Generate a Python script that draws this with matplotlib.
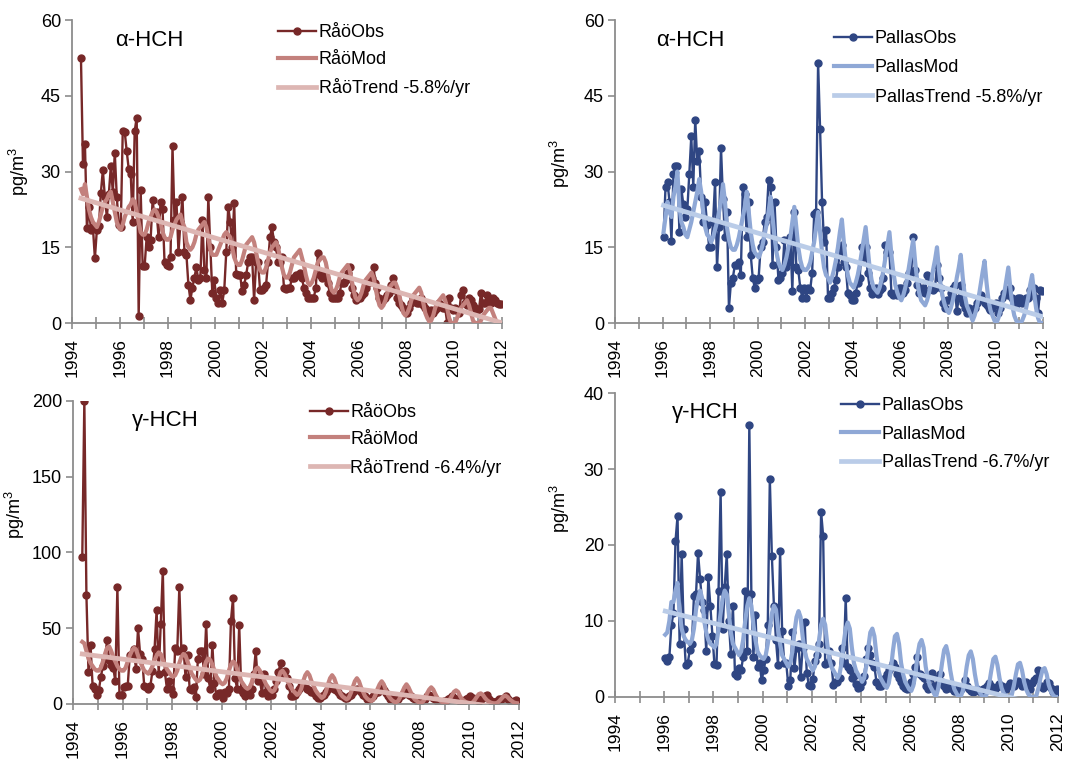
import numpy as np
import pandas as pd
import matplotlib
matplotlib.use("Agg")
import matplotlib.pyplot as plt
from matplotlib.ticker import MultipleLocator

plt.rcParams['font.family'] = ['Liberation Sans', 'DejaVu Sans']
plt.rcParams['mathtext.default'] = 'regular'

# ---------------- data (monthly values, pg/m3) ----------------
# Råö alpha-HCH, May 1994 - Dec 2011
raa_alpha_obs = [
    [52.5, 31.5, 35.5, 18.8, 23, 18.5, 19, 12.8],
    [18.5, 19.2, 25.8, 30.3, 25, 21, 25.5, 31, 26, 33.7, 25, 19.5],
    [19, 38, 37.8, 34, 30.5, 29.5, 20, 38, 40.7, 1.3, 26.3, 11.3],
    [11.3, 17, 15, 16.5, 24.3, 21, 22, 17, 24, 22.5, 12, 11.5],
    [11.3, 13, 35, 20.5, 24, 14, 20, 25, 14, 13.5, 7.5, 4.6],
    [7, 9, 11, 8.5, 9, 20.5, 10.5, 9, 25, 15, 6, 8.5],
    [5, 4, 6.5, 4, 6.5, 14, 23, 20, 15, 23.7, 9.7, 9.5],
    [9.5, 6.3, 7.5, 9.5, 12, 13, 13, 4.5, 12, 12, 6.5, 6.5],
    [7, 7.5, 12, 17, 19, 16, 15, 12, 12, 13, 7, 6.8],
    [7, 7, 9, 9, 9.5, 9.5, 10, 9, 7, 6, 5, 5],
    [5, 5, 7, 13.8, 9.5, 9, 10, 9, 8, 6, 5, 5],
    [5, 5, 6, 8, 8, 8.5, 10, 11, 7, 5.5, 4.5, 5],
    [5, 5.5, 6, 7, 8, 8.5, 9, 11, 8, 7, 5, 4.5],
    [4.5, 5, 5.5, 6, 7.5, 9, 6.5, 5, 4, 3.5, 3, 2.5],
    [2, 3, 4, 5, 4.5, 4, 4, 5, 3.5, 3, 2.5, 2],
    [2.5, 2, 2.5, 3, 4, 3.5, 3, 3, 0.1, 5, 3, 2.5],
    [3, 2.5, 2, 5.5, 6.5, 4, 3.5, 5, 4.5, 3.5, 3, 2.5],
    [2.7, 6, 4, 4, 5.5, 5, 4, 5, 4.5, 4, 3.8, 3.8],
]
raa_alpha_mod = [
    [26.5, 25.5, 27.5, 25, 22.5, 21, 20, 19.5],
    [19, 20, 21.5, 23, 24, 24.5, 25.5, 26, 24, 22, 20, 19],
    [18.5, 19.5, 21, 22, 23, 23.5, 24.5, 24, 22, 20, 18, 17.5],
    [17.5, 18.5, 20, 21, 22, 22.5, 22, 21, 20, 18, 17, 16.5],
    [16.5, 17, 18.5, 19.5, 20.5, 21, 21.5, 20, 19, 16, 15, 14.5],
    [15, 16, 17.5, 18.5, 19, 19.5, 20, 19, 17, 14.5, 13.5, 13.5],
    [13.5, 14.5, 15.5, 16.5, 17.5, 18, 17.5, 17, 15, 13, 12, 11.5],
    [11.5, 12.5, 14, 15.5, 16, 16.5, 17, 16, 14, 12, 10.5, 10],
    [10, 11, 12.5, 14, 15, 15.5, 16, 15, 13, 11, 9.5, 9],
    [9, 10, 11.5, 13, 13.5, 14, 14.5, 13, 11.5, 9.5, 8, 7.5],
    [8, 9, 10.5, 12, 12.5, 13, 13, 12, 10, 8, 6.5, 6],
    [6.5, 7.5, 9, 10, 10.5, 11, 11.5, 10.5, 8.5, 6.5, 5, 4.5],
    [5, 6, 7.5, 8.5, 9, 9.5, 10, 9, 7, 5, 3.5, 3],
    [3.5, 4.5, 6, 7, 7.5, 8, 8, 7, 5.5, 3.5, 2, 1.5],
    [2, 3, 4.5, 5.5, 6, 6.5, 7, 6, 4, 2, 1, 0.3],
    [0.5, 1.5, 3, 4, 4.5, 5, 5.5, 4.5, 3, 1, 0, 0],
    [0, 1, 2, 3, 3.5, 4, 4.5, 3.5, 2, 0.5, 0, 0],
    [0, 0.5, 1.5, 2, 2.5, 3, 3, 2, 1, 0, 0, 0],
]
raa_alpha_trend = [24.7, 0.1]          # first and last month

# Pallas alpha-HCH, Jan 1996 - Dec 2011
pal_alpha_obs = [
    [17, 27, 28, 24, 16.3, 29.5, 31, 31, 18, 26.5, 23.5, 21],
    [22.5, 29.5, 37, 27, 40.3, 32, 34, 25, 20, 24, 19.5, 15],
    [15, 20, 28, 11, 19, 34.7, 24.5, 17, 22, 3, 8, 9],
    [11.5, 11.5, 12, 9.5, 27, 25.5, 17, 24, 13.5, 9, 7, 8.5],
    [9, 15, 16, 20, 21, 28.3, 27, 11.5, 24, 15, 8.5, 9],
    [10, 16.5, 11, 12, 17, 6.3, 22, 11, 10.5, 7, 5, 7],
    [5, 7, 6.5, 10, 21.5, 22, 51.5, 38.5, 24, 16, 18.5, 5],
    [5, 6, 7, 8.5, 11, 14, 15.5, 12, 11, 6, 5.5, 4.5],
    [4.5, 6, 8, 9, 15, 13, 15, 10, 7, 5.8, 6.5, 7],
    [5.8, 6.5, 7, 9, 15.5, 14, 14, 6, 5.5, 6, 5.5, 7],
    [7, 6, 6.5, 8, 10, 10, 17, 10.5, 7.5, 6, 6.5, 7],
    [6, 9.5, 9, 7, 6.5, 7, 11.5, 9, 7, 4, 3, 4.5],
    [4.5, 6, 7, 7.5, 2.3, 5, 7.5, 4, 3, 2, 3, 2.5],
    [2.5, 3, 4, 5, 5.5, 4.5, 4, 3.5, 3, 2.5, 3, 3.5],
    [4, 2, 3, 5, 6, 6, 5.5, 7, 5, 4, 3.5, 5],
    [5, 4, 4.5, 5, 5, 6.5, 6, 7, 5, 2, 6.5, 6.3],
]
pal_alpha_mod = [
    [18, 21, 24, 22, 21, 25, 27, 30, 23, 20, 19, 17.5],
    [17, 18.5, 20, 22, 24, 26, 28.5, 26, 22, 19, 17.5, 17],
    [16, 17, 18.5, 20, 22, 24, 27.5, 24, 19, 16.5, 15, 14.5],
    [14.5, 15.5, 17, 19, 21, 23, 26, 22, 18, 15.5, 14, 13.5],
    [13, 14, 15.5, 17.5, 19.5, 22, 25, 21, 17, 14, 12, 11],
    [10.5, 11.5, 13, 15, 17, 20, 23, 19, 15, 12.5, 11, 10.5],
    [10.5, 11, 12, 14, 16, 19, 22, 18, 14, 11, 9.5, 9],
    [8, 9, 10.5, 12.5, 15, 18, 20.5, 16, 12, 9.5, 8, 7.5],
    [7, 8, 9.5, 11.5, 14, 16.5, 19, 15, 11, 8.5, 7, 6.5],
    [6, 7, 8.5, 10.5, 13, 15.5, 18, 13.5, 10, 7.5, 6, 5],
    [4.5, 5.5, 7, 9, 11.5, 14, 16.5, 12, 8.5, 6, 4.5, 4],
    [3.5, 4.5, 6, 8, 10.5, 12.5, 15, 10.5, 7, 5, 3.5, 2.5],
    [2, 3, 4.5, 6.5, 9, 11, 13.5, 9, 5.5, 3.5, 2.5, 1.5],
    [0.5, 1.5, 3, 5, 7.5, 10, 12.3, 8, 4.5, 2.5, 1.5, 0.5],
    [0, 1, 2.5, 4, 6, 8.5, 11, 7, 3.5, 1.5, 0.5, 0],
    [0, 0.5, 1.5, 3, 5, 7.5, 9.5, 6, 3, 1, 0, 0],
]
pal_alpha_trend = [23.3, 1.3]

# Råö gamma-HCH, May 1994 - Dec 2011
raa_gamma_obs = [
    [97, 200, 72, 21, 39, 12, 10, 6],
    [9, 18, 25, 30, 42, 29, 26, 24, 15, 77, 6, 6],
    [11, 12, 12, 32, 33, 36, 23, 50, 33, 30, 12, 11.5],
    [10, 12, 22, 36, 62, 20, 53, 88, 21, 10, 15, 10],
    [6.5, 37, 35, 77, 35, 37, 18, 32, 10, 9, 11, 4.5],
    [30, 35, 35, 20, 53, 17, 10, 39, 14, 5, 7, 7],
    [4, 8, 7, 10, 55, 70, 17, 10, 52, 9, 7, 5],
    [8, 6, 10, 20, 35, 15, 16, 7, 20, 8, 5, 8],
    [6, 10, 15, 21, 27, 20, 22, 17, 12, 5, 5, 6],
    [8, 10, 12, 14, 12, 10, 9, 8, 7, 5, 4, 4],
    [5, 6, 8, 10, 12, 11, 10, 9, 8, 6, 5, 4],
    [4, 5, 6, 8, 9, 10, 9, 8, 6, 5, 3, 3],
    [4, 5, 7, 8, 10, 11, 9, 7, 5, 3, 3, 2.5],
    [3, 3.5, 5, 6, 7, 8, 6, 5, 4, 3, 2, 2],
    [2, 3, 3.5, 5, 6, 5, 4, 3, 2, 1.5, 1.5, 2],
    [2, 3, 4, 5, 4, 3, 2.5, 2, 1.5, 2, 3, 4],
    [5, 4, 3, 2.5, 2, 3, 4, 5, 6, 3, 2, 1.5],
    [1, 2, 3, 3, 4, 5, 3, 2, 1.5, 2, 2.5, 1],
]
raa_gamma_mod = [
    [41, 40, 35, 30, 27, 25, 23, 22],
    [22, 24, 28, 33, 37, 38, 35, 31, 28, 25, 23, 22],
    [22, 24, 28, 32, 35, 37, 36, 32, 28, 25, 22, 21],
    [20, 22, 25, 29, 32, 34, 33, 29, 26, 23, 21, 19],
    [18, 19, 22, 27, 31, 33, 32, 28, 24, 20, 18, 16],
    [15, 16, 19, 24, 28, 30, 29, 26, 22, 18, 16, 14],
    [13, 14, 17, 22, 26, 28, 27, 23, 19, 15, 13, 11],
    [10, 11, 14, 19, 23, 24, 22, 19, 16, 13, 11, 9],
    [8, 9, 12, 17, 21, 22, 20, 17, 14, 11, 9, 7.5],
    [6, 7, 10, 15, 19, 21, 19, 15, 12, 9, 7, 5.5],
    [4, 5, 8, 13, 17, 19, 17, 13, 10, 7, 5, 4],
    [3, 4, 7, 11, 15, 17, 15, 11, 8, 5, 3.5, 2.5],
    [2, 3, 6, 10, 13, 15, 13, 9, 6, 4, 2.5, 1.5],
    [1.2, 2, 4.5, 8, 11, 13, 11, 8, 5, 3, 2, 1],
    [0.8, 1.5, 3.5, 7, 9.5, 11, 9.5, 6.5, 4, 2.5, 1.5, 0.8],
    [0.6, 1.2, 3, 5.5, 8, 9, 8, 5, 3, 2, 1, 0.6],
    [0.5, 1, 2.5, 4.5, 6.5, 7, 6, 4, 2.5, 1.5, 0.8, 0.5],
    [0.4, 0.8, 2, 3.5, 5, 5.5, 4.5, 3, 2, 1, 0.6, 0.4],
]
raa_gamma_trend = [33.0, -3.6]

# Pallas gamma-HCH, Jan 1996 - Dec 2011
pal_gamma_obs = [
    [5.1, 4.8, 5.2, 9.5, 11, 20.5, 23.8, 7, 18.8, 9, 4.2, 4.5],
    [6.2, 7, 13.3, 13.5, 19, 15.5, 12.5, 11.5, 6, 15.8, 12, 8],
    [4.3, 4.2, 14, 27, 9, 14.5, 18.8, 10, 5.6, 12, 3, 2.8],
    [3.8, 3.5, 5.3, 14, 6.1, 35.8, 13.5, 5.3, 10.8, 4, 4.5, 2.2],
    [3.5, 5, 9.5, 28.7, 18.5, 12, 7.5, 4.2, 19.2, 8.7, 4.5, 4.5],
    [1.5, 2.3, 8.5, 3.8, 6.5, 7, 2.6, 6.4, 9.9, 3.2, 1.6, 1.4],
    [2.4, 4.8, 5.5, 7, 24.4, 21.2, 4.3, 4.5, 6, 4.5, 1.6, 2],
    [2, 2.5, 6.5, 4.5, 13, 4, 3.5, 2.5, 2.7, 1.7, 1.2, 1.3],
    [2, 2.8, 5, 6.5, 5.5, 4.5, 4, 2, 1.5, 1.5, 2, 2.5],
    [3, 3.5, 4, 4.5, 4, 3, 2.5, 2, 1.5, 1.2, 1, 1.3],
    [2, 3, 4, 5.2, 3, 2.8, 2.5, 1.5, 1, 1.2, 3.2, 1.5],
    [1.5, 2.5, 3, 2, 1.5, 1, 1.5, 1.2, 1.2, 0.8, 0.8, 1],
    [1, 1.5, 2.2, 1.5, 1, 0.8, 0.6, 0.8, 1, 0.8, 0.7, 1],
    [1.2, 1.5, 1.8, 1.5, 1.2, 1, 1.3, 1.7, 1.5, 1.2, 1, 1.5],
    [1.8, 1.7, 1.5, 2, 2.1, 1.8, 1.5, 1.8, 2, 1.2, 1, 1.8],
    [2.2, 2.5, 3.5, 1.5, 1.2, 1.5, 2, 1.8, 1.2, 0.6, 0.5, 1],
]
pal_gamma_mod = [
    [8.2, 8.5, 10, 12.5, 12.5, 14, 15, 11, 9, 8, 7.5, 7.2],
    [7, 7.5, 9, 11.5, 13, 14, 13, 10, 8.5, 7.5, 7, 6.8],
    [6.5, 7, 9, 11, 13, 14, 13.5, 11, 8.5, 7, 6.5, 6],
    [5.5, 6, 7.5, 10, 12, 13, 12, 9.5, 7.5, 6, 5.5, 5.2],
    [5, 5.5, 7, 9, 11, 12, 11.5, 9, 7, 5.5, 5, 4.5],
    [4, 4.5, 6, 8.5, 10.5, 11.3, 10.5, 8, 6, 5, 4.5, 4],
    [3.5, 4, 5.5, 7.5, 9.5, 10.3, 9.5, 7, 5, 4, 3.5, 3],
    [2.5, 3, 4.5, 7, 9, 9.8, 9, 6.5, 4.5, 3.5, 3, 2.5],
    [2, 2.5, 4, 6.5, 8.5, 9, 8, 5.5, 3.5, 2.5, 2, 1.5],
    [1.2, 1.8, 3.5, 6, 8, 8.3, 7, 4.5, 3, 2, 1.5, 1],
    [0.8, 1.5, 3, 5.5, 7, 7.5, 6.5, 4, 2.5, 1.5, 1, 0.5],
    [0, 1, 2.5, 4.5, 6.2, 6.7, 5.5, 3.5, 2, 1, 0.5, 0],
    [0, 0.7, 2, 4, 5.5, 6, 5, 3, 1.5, 0.8, 0.3, 0],
    [0, 0.5, 1.8, 3.5, 5, 5.3, 4.2, 2.5, 1.2, 0.5, 0.2, 0],
    [0, 0.3, 1.5, 3, 4.3, 4.5, 3.5, 2, 1, 0.4, 0.1, 0],
    [0, 0.2, 1.2, 2.5, 3.6, 3.8, 3, 1.6, 0.8, 0.3, 0, 0],
]
pal_gamma_trend = [11.3, -1.6]

year_ticks = list(range(1994, 2013, 2))

# ---------------- styling ----------------
RAA_OBS, RAA_MOD, RAA_TREND = '#772828', '#C3817D', '#DDB6B3'
PAL_OBS, PAL_MOD, PAL_TREND = '#2F4683', '#8FA8D6', '#BACCE8'
AXIS_GREY = '#8C8C8C'


def month_axis(start, rows):
    """Decimal-year positions (mid-month) for a run of monthly values."""
    n = sum(len(r) for r in rows)
    dates = pd.date_range(start, periods=n, freq='MS')
    return (dates.year + (dates.month - 0.5) / 12).to_numpy()


def flat(rows):
    return np.array([v for r in rows for v in r], dtype=float)


def panel(rect, start, obs, mod, trend, site, colors, compound, ylim, ystep,
          trend_label, ylab_xy, title_xy, leg_xy, leg_space):
    ax = fig.add_axes(rect)
    t = month_axis(start, obs)
    c_obs, c_mod, c_tr = colors
    ax.plot(t, flat(obs), color=c_obs, lw=1.7, marker='o', ms=5,
            label=f'{site}Obs', zorder=2)
    ax.plot(t, flat(mod), color=c_mod, lw=3.0, label=f'{site}Mod', zorder=3)
    ax.plot([t[0], t[-1]], trend, color=c_tr, lw=3.4,
            label=f'{site}Trend {trend_label}', zorder=4)

    ax.set_xlim(1994, 2012)
    ax.set_ylim(0, ylim)
    ax.set_xticks(year_ticks)
    ax.set_xticklabels([str(y) for y in year_ticks], rotation=90)
    ax.xaxis.set_minor_locator(MultipleLocator(1))
    ax.yaxis.set_major_locator(MultipleLocator(ystep))

    for s in ('top', 'right'):
        ax.spines[s].set_visible(False)
    for s in ('left', 'bottom'):
        ax.spines[s].set_color(AXIS_GREY)
        ax.spines[s].set_linewidth(1.3)
    ax.tick_params(axis='x', which='both', direction='inout', length=9,
                   width=1.2, color=AXIS_GREY, labelsize=12.5, pad=6.5)
    ax.tick_params(axis='y', direction='out', length=5, width=1.2,
                   color=AXIS_GREY, labelsize=13, pad=3)

    ax.set_ylabel('pg/m$^{3}$', fontsize=13)
    ax.yaxis.set_label_coords(*ylab_xy)
    ax.text(title_xy[0], title_xy[1], compound, transform=ax.transAxes,
            fontsize=16, ha='left', va='center')
    ax.legend(loc='upper left', bbox_to_anchor=leg_xy, frameon=False,
              fontsize=13, handlelength=2.1, handletextpad=0.15,
              labelspacing=leg_space, borderpad=0, borderaxespad=0,
              numpoints=1)
    return ax


fig = plt.figure(figsize=(10.91, 7.59), dpi=100)

panel([0.066, 0.5744, 0.394, 0.3992], '1994-05-01', raa_alpha_obs,
      raa_alpha_mod, raa_alpha_trend, 'Råö', (RAA_OBS, RAA_MOD, RAA_TREND),
      'α-HCH', 60, 15, '-5.8%/yr', (-0.095, 0.5), (0.1, 0.934),
      (0.479, 0.987), 0.56)
panel([0.5637, 0.5744, 0.3923, 0.3992], '1996-01-01', pal_alpha_obs,
      pal_alpha_mod, pal_alpha_trend, 'Pallas', (PAL_OBS, PAL_MOD, PAL_TREND),
      'α-HCH', 60, 15, '-5.8%/yr', (-0.1, 0.525), (0.096, 0.934),
      (0.512, 0.967), 0.68)
panel([0.0669, 0.0725, 0.4088, 0.3992], '1994-05-01', raa_gamma_obs,
      raa_gamma_mod, raa_gamma_trend, 'Råö', (RAA_OBS, RAA_MOD, RAA_TREND),
      'γ-HCH', 200, 50, '-6.4%/yr', (-0.104, 0.624), (0.133, 0.937),
      (0.531, 0.99), 0.54)
panel([0.5637, 0.0817, 0.406, 0.4005], '1996-01-01', pal_gamma_obs,
      pal_gamma_mod, pal_gamma_trend, 'Pallas', (PAL_OBS, PAL_MOD, PAL_TREND),
      'γ-HCH', 40, 10, '-6.7%/yr', (-0.098, 0.62), (0.129, 0.9375),
      (0.51, 0.987), 0.65)

fig.savefig('out.png', dpi=100, facecolor='white')
